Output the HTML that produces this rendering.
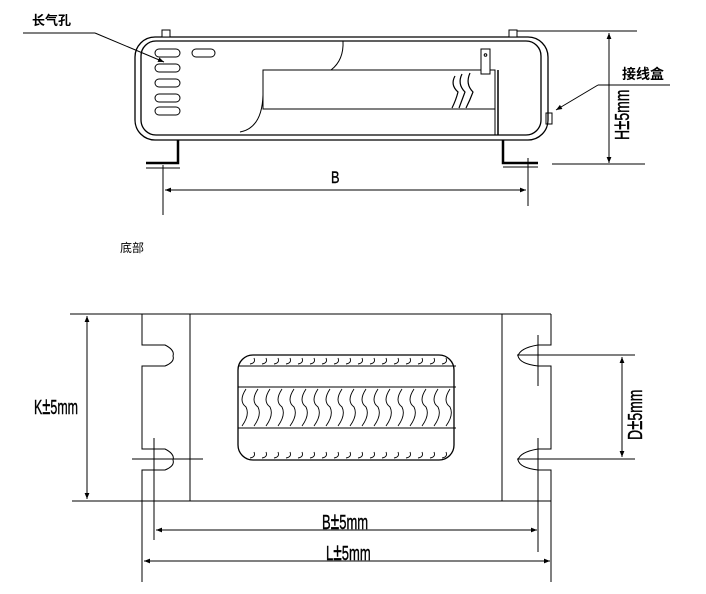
<!DOCTYPE html>
<html><head><meta charset="utf-8"><style>
html,body{margin:0;padding:0;background:#fff;}
svg{display:block;}
text{font-family:"Liberation Sans","Noto Sans CJK SC",sans-serif;fill:#000;}
.d{font-family:"Liberation Sans Narrow","Liberation Sans",sans-serif;font-size:20px;stroke:#000;stroke-width:0.4;}
.pm{font-size:24px;}
</style></head><body>
<svg width="706" height="594" viewBox="0 0 706 594" xmlns="http://www.w3.org/2000/svg">
<defs>
<marker id="a" viewBox="0 0 10 10" refX="10" refY="5" markerWidth="10" markerHeight="6" orient="auto-start-reverse" markerUnits="userSpaceOnUse"><path d="M0,1 L10,5 L0,9 Z" fill="#000"/></marker>
</defs>
<g fill="none" stroke="#000" stroke-width="1">
<rect x="135" y="37" width="413" height="103" rx="20" stroke-width="1.3"/>
<rect x="141" y="41" width="400" height="94" rx="15" stroke-width="1.3"/>
<rect x="162" y="30" width="8" height="7" fill="#fff"/>
<rect x="509" y="30" width="8" height="7" fill="#fff"/>
<rect x="155" y="49" width="25" height="8" rx="4"/>
<rect x="192" y="49" width="23" height="8" rx="4"/>
<rect x="155" y="64" width="25" height="8" rx="4"/>
<rect x="155" y="79" width="25" height="8" rx="4"/>
<rect x="155" y="94" width="25" height="8" rx="4"/>
<rect x="155" y="107" width="25" height="8" rx="4"/>
<rect x="263" y="70" width="232" height="39"/>
<path d="M343,41 Q344,60 331,70"/>
<path d="M263,95 Q262,128 240,132"/>
<path d="M455,76 Q450,85 458,92 Q456,100 452,108 M462,74 Q457,84 465,92 Q462,100 459,108 M470,73 Q465,84 473,92 Q470,100 466,108" stroke-width="1.2"/>
<rect x="481" y="49" width="9" height="25" fill="#fff"/>
<circle cx="485.5" cy="55" r="1.3"/>
<line x1="495" y1="70" x2="495" y2="135"/>
<line x1="498" y1="70" x2="498" y2="135" stroke-width="1.5"/>
<rect x="546" y="113" width="6" height="11"/>
<path d="M178,140 V163 H146" stroke-width="2.5"/>
<line x1="146" y1="168" x2="180" y2="168"/>
<path d="M503,140 V163 H538" stroke-width="2.5"/>
<line x1="503" y1="167" x2="538" y2="167"/>
<line x1="163" y1="165" x2="163" y2="215"/>
<line x1="528" y1="158" x2="528" y2="206"/>
<line x1="165" y1="190" x2="526" y2="190" marker-start="url(#a)" marker-end="url(#a)"/>
<line x1="517" y1="31" x2="637" y2="31"/>
<line x1="552" y1="164" x2="645" y2="164"/>
<line x1="609" y1="33" x2="609" y2="163" marker-start="url(#a)" marker-end="url(#a)"/>
<polyline points="23,33 95,33"/>
<line x1="95" y1="33" x2="164" y2="62" marker-end="url(#a)"/>
<line x1="598" y1="85" x2="670" y2="85"/>
<line x1="598" y1="85" x2="556" y2="110" marker-end="url(#a)"/>

<line x1="70" y1="314" x2="551" y2="314"/>
<line x1="72" y1="501" x2="551" y2="501"/>
<path d="M142,314 V345 H165 Q175,350 173,356 Q175,362 165,366 H142 V449 H165 Q175,454 173,460 Q175,466 165,470 H142 V582"/>
<path d="M551,314 V345 H538 Q520,348 518,356 Q520,364 538,366 H551 V449 H538 Q520,452 518,460 Q520,468 538,470 H551 V582"/>
<line x1="190" y1="314" x2="190" y2="501"/>
<line x1="502" y1="314" x2="502" y2="501"/>
<line x1="154" y1="438" x2="154" y2="540"/>
<line x1="132" y1="459" x2="203" y2="459"/>
<line x1="538" y1="335" x2="538" y2="386"/>
<line x1="538" y1="438" x2="538" y2="552"/>
<line x1="517" y1="355" x2="635" y2="355"/>
<line x1="517" y1="459" x2="635" y2="459"/>
<rect x="238" y="355" width="216" height="105" rx="15" stroke-width="1.3"/>
<line x1="238" y1="366" x2="456" y2="366"/>
<line x1="238" y1="387" x2="456" y2="387"/>
<line x1="238" y1="428" x2="456" y2="428"/>
<g stroke-width="0.9">
<path d="M250,364 q6,-1 4,-6 M262,364 q6,-1 4,-6 M274,364 q6,-1 4,-6 M286,364 q6,-1 4,-6 M298,364 q6,-1 4,-6 M310,364 q6,-1 4,-6 M322,364 q6,-1 4,-6 M334,364 q6,-1 4,-6 M346,364 q6,-1 4,-6 M358,364 q6,-1 4,-6 M370,364 q6,-1 4,-6 M382,364 q6,-1 4,-6 M394,364 q6,-1 4,-6 M406,364 q6,-1 4,-6 M418,364 q6,-1 4,-6 M430,364 q6,-1 4,-6 M442,364 q6,-1 4,-6"/>
<path d="M250,458 q6,-1 4,-6 M262,458 q6,-1 4,-6 M274,458 q6,-1 4,-6 M286,458 q6,-1 4,-6 M298,458 q6,-1 4,-6 M310,458 q6,-1 4,-6 M322,458 q6,-1 4,-6 M334,458 q6,-1 4,-6 M346,458 q6,-1 4,-6 M358,458 q6,-1 4,-6 M370,458 q6,-1 4,-6 M382,458 q6,-1 4,-6 M394,458 q6,-1 4,-6 M406,458 q6,-1 4,-6 M418,458 q6,-1 4,-6 M430,458 q6,-1 4,-6 M442,458 q6,-1 4,-6"/>
<path d="M246,389 q-8,12 0,18 q4,8 -4,19 M258,389 q-8,12 0,18 q4,8 -4,19 M270,389 q-8,12 0,18 q4,8 -4,19 M282,389 q-8,12 0,18 q4,8 -4,19 M294,389 q-8,12 0,18 q4,8 -4,19 M306,389 q-8,12 0,18 q4,8 -4,19 M318,389 q-8,12 0,18 q4,8 -4,19 M330,389 q-8,12 0,18 q4,8 -4,19 M342,389 q-8,12 0,18 q4,8 -4,19 M354,389 q-8,12 0,18 q4,8 -4,19 M366,389 q-8,12 0,18 q4,8 -4,19 M378,389 q-8,12 0,18 q4,8 -4,19 M390,389 q-8,12 0,18 q4,8 -4,19 M402,389 q-8,12 0,18 q4,8 -4,19 M414,389 q-8,12 0,18 q4,8 -4,19 M426,389 q-8,12 0,18 q4,8 -4,19 M438,389 q-8,12 0,18 q4,8 -4,19 M450,389 q-8,12 0,18 q4,8 -4,19"/>
</g>
<line x1="87" y1="316" x2="87" y2="499" marker-start="url(#a)" marker-end="url(#a)"/>
<line x1="622" y1="357" x2="622" y2="457" marker-start="url(#a)" marker-end="url(#a)"/>
<line x1="156" y1="530" x2="537" y2="530" marker-start="url(#a)" marker-end="url(#a)"/>
<line x1="144" y1="561" x2="550" y2="561" marker-start="url(#a)" marker-end="url(#a)"/>
</g>
<text x="32" y="25" font-size="13" font-weight="bold">长气孔</text>
<text x="622" y="79" font-size="14" font-weight="bold">接线盒</text>
<text class="d" transform="translate(331,183) scale(0.75,1)" style="font-size:17px">B</text>
<text class="d" transform="translate(629,140) rotate(-90) scale(0.7,1)">H<tspan class="pm">±</tspan>5mm</text>
<text x="120" y="252" font-size="12">底部</text>
<text class="d" transform="translate(34,414) scale(0.62,1)">K<tspan class="pm">±</tspan>5mm</text>
<text class="d" transform="translate(642,440) rotate(-90) scale(0.7,1)">D<tspan class="pm">±</tspan>5mm</text>
<text class="d" transform="translate(322,529) scale(0.65,1)">B<tspan class="pm">±</tspan>5mm</text>
<text class="d" transform="translate(326,560) scale(0.65,1)">L<tspan class="pm">±</tspan>5mm</text>
</svg>
</body></html>
